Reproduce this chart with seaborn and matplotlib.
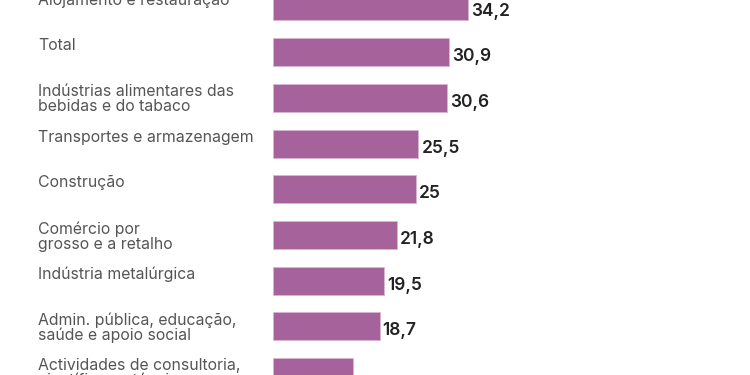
import matplotlib
matplotlib.use("Agg")
import matplotlib.pyplot as plt
import seaborn as sns
import pandas as pd

categories = [
    "Alojamento e restauração",
    "Total",
    "Indústrias alimentares das\nbebidas e do tabaco",
    "Transportes e armazenagem",
    "Construção",
    "Comércio por\ngrosso e a retalho",
    "Indústria metalúrgica",
    "Admin. pública, educação,\nsaúde e apoio social",
    "Actividades de consultoria,\ncientíficas e técnicas",
]
values = [34.2, 30.9, 30.6, 25.5, 25.0, 21.8, 19.5, 18.7, 14.0]

df = pd.DataFrame({"cat": categories, "val": values})

sns.set_theme(style="white")
plt.rcParams["font.family"] = ["Inter", "DejaVu Sans"]

fig = plt.figure(figsize=(7.5, 3.75), dpi=100)
ax = fig.add_axes([273 / 750, 0, 228 / 750, 1])

bar_h = 0.61
sns.barplot(data=df, x="val", y="cat", orient="h", color="#a6629a",
            saturation=1, width=bar_h, edgecolor="#d9b5d2", linewidth=0.6, ax=ax)

ax.set_xlim(0, 40)
ax.set_ylim((375 - 6.5) / 45.7, -6.5 / 45.7)
ax.set_xlabel("")
ax.set_ylabel("")
ax.set_xticks([])
ax.set_yticks([])
for s in ax.spines.values():
    s.set_visible(False)

for i, (c, v) in enumerate(zip(categories, values)):
    lbl = (f"{v:.1f}".rstrip("0").rstrip(".")).replace(".", ",")
    ax.annotate(lbl, xy=(v, i + bar_h / 2), xytext=(2.2, 3.5),
                textcoords="offset points", ha="left", va="baseline",
                fontsize=12.5, fontweight="semibold", color="#222222")
    ax.annotate(c, xy=(0, i - bar_h / 2), xycoords=("figure fraction", "data"),
                xytext=(38, 0), textcoords="offset pixels",
                ha="left", va="top", fontsize=11.4, color="#555555",
                linespacing=1.0, annotation_clip=False)

fig.savefig("out.png", dpi=100, facecolor="white")
